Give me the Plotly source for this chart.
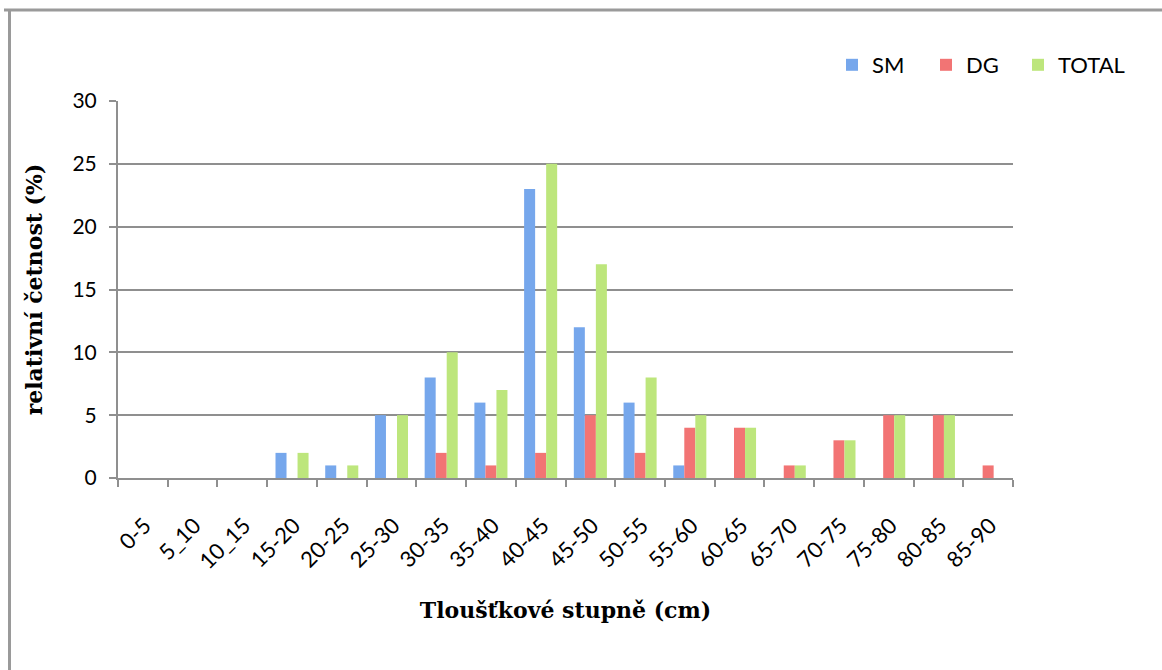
import plotly.graph_objects as go

categories = ["0-5", "5_10", "10_15", "15-20", "20-25", "25-30", "30-35", "35-40", "40-45",
              "45-50", "50-55", "55-60", "60-65", "65-70", "70-75", "75-80", "80-85", "85-90"]
sm = [0, 0, 0, 2, 1, 5, 8, 6, 23, 12, 6, 1, 0, 0, 0, 0, 0, 0]
dg = [0, 0, 0, 0, 0, 0, 2, 1, 2, 5, 2, 4, 4, 1, 3, 5, 5, 1]
total = [0, 0, 0, 2, 1, 5, 10, 7, 25, 17, 8, 5, 4, 1, 3, 5, 5, 0]

W, H = 1162, 670
L, R, T, B = 118, 149, 101, 192
pw, ph = W - L - R, H - T - B

def px_x(x):
    return (x - L) / pw

def px_y(y):
    return (H - B - y) / ph

fig = go.Figure()
fig.add_bar(name="SM", x=categories, y=sm, marker=dict(color="#76a7ec", line=dict(width=0)),
            legend="legend", showlegend=True)
fig.add_bar(name="DG", x=categories, y=dg, marker=dict(color="#f27474", line=dict(width=0)),
            legend="legend2", showlegend=True)
fig.add_bar(name="TOTAL", x=categories, y=total, marker=dict(color="#bde67c", line=dict(width=0)),
            legend="legend3", showlegend=True)

grid = "#8f8f8f"
serif = "DejaVu Serif, Liberation Serif, serif"

def leg(xpx):
    return dict(orientation="h", x=px_x(xpx), xanchor="left", y=px_y(65), yanchor="middle",
                font=dict(size=22), itemwidth=30, bgcolor="rgba(0,0,0,0)", visible=True)

fig.update_layout(
    width=W, height=H,
    margin=dict(l=L, r=R, t=T, b=B, pad=0),
    paper_bgcolor="white", plot_bgcolor="white",
    showlegend=True,
    barmode="group", bargap=0.335, bargroupgap=0,
    font=dict(family="Lato, Open Sans, sans-serif", size=21, color="#000"),
    legend=leg(832), legend2=leg(926), legend3=leg(1018),
    xaxis=dict(
        type="category", tickangle=-45, showline=True, linecolor=grid, linewidth=2,
        ticks="outside", ticklen=7, tickcolor=grid, tickwidth=2, tickson="boundaries",
        showgrid=False, ticklabelstandoff=24, ticklabelshift=2,
        title=dict(text="<b>Tloušťkové stupně (cm)</b>", standoff=30,
                   font=dict(family=serif, size=22)),
        tickfont=dict(size=22),
    ),
    yaxis=dict(
        range=[0, 30], tickvals=[0, 5, 10, 15, 20, 25, 30], showline=True, linecolor=grid, linewidth=2,
        ticks="outside", ticklen=7, tickcolor=grid, tickwidth=2,
        showgrid=True, gridcolor=grid, gridwidth=2, zeroline=False,
        title=dict(text="<b>relativní četnost (%)</b>", standoff=24,
                   font=dict(family=serif, size=22)),
        tickfont=dict(size=21), ticklabelstandoff=8,
    ),
)

# hide part of top gridline (as in the original) and draw outer chart frame
fig.add_shape(type="line", xref="paper", yref="y", x0=px_x(806), x1=1.0, y0=30, y1=30,
              line=dict(color="white", width=4), layer="above")
fig.add_shape(type="line", xref="paper", yref="paper", x0=px_x(4), x1=px_x(1165),
              y0=px_y(10), y1=px_y(10), line=dict(color="#9a9a9a", width=3))
fig.add_shape(type="line", xref="paper", yref="paper", x0=px_x(9.5), x1=px_x(9.5),
              y0=px_y(10), y1=px_y(675), line=dict(color="#9a9a9a", width=3))

fig.write_html("out.html", config={"displayModeBar": False},
               post_script="document.body.style.margin='0';document.body.style.overflow='hidden';")
